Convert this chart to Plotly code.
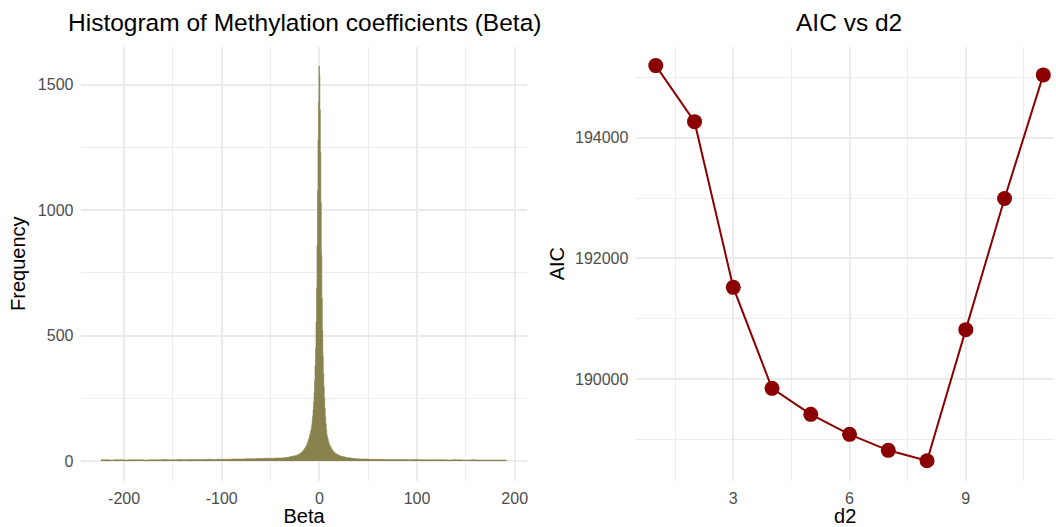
import numpy as np
import plotly.graph_objects as go

# ---------------- Data ----------------
# Histogram of Beta (counts)
# far tails: bins of width 5 (outermost bins shorter)
left_tail_edges = [-223.5, -220.5, -215.5, -210.5, -205.5, -200.5, -195.5, -190.5,
                   -185.5, -180.5, -175.5, -170.5, -165.5, -160.5, -155.5, -150.5,
                   -145.5, -140.5, -135.5, -130.5, -125.5, -120.5, -115.5, -110.5,
                   -105.5, -100.5, -95.5, -90.5, -85.5, -80.5, -75.5, -70.5,
                   -65.5, -60.5, -55.5, -50.5, -45.5, -40.5]
left_tail_counts = [5, 5, 4, 5, 5, 4, 5, 5, 5, 4, 5, 5, 5, 6, 5, 5, 6, 5, 6,
                    6, 6, 6, 7, 6, 7, 7, 7, 8, 8, 8, 9, 9, 10, 10, 11, 11, 12]
# shoulders: bins of width 1 centred on -40..-11 and 11..40
inner_left_centers = list(range(-40, -10))
inner_left_counts = [12, 12, 12, 13, 13, 14, 14, 15, 15, 16,
                     17, 18, 19, 19, 20, 21, 22, 23, 25, 27,
                     29, 32, 35, 39, 44, 50, 56, 64, 74, 86]
# peak: bins of width 0.5 from -10.5 to 10.5
fine_edges_start, fine_edges_end, fine_width = -10.5, 10.5, 0.5
fine_counts = [98, 105, 112, 120, 130, 143, 160, 180, 205, 235, 272,
               320, 380, 450, 555, 690, 860, 1080, 1280, 1430, 1574,
               1540, 1400, 1230, 1030, 820, 650, 520, 420, 350, 295,
               250, 210, 175, 148, 125, 106, 96, 88, 80, 73, 67]
inner_right_centers = list(range(11, 41))
inner_right_counts = [61, 53, 46, 40, 36, 32, 29, 27, 25, 23,
                      21, 20, 19, 18, 17, 16, 15, 14, 14, 13,
                      13, 12, 12, 11, 11, 10, 10, 9, 9, 9]
right_tail_edges = [40.5, 45.5, 50.5, 55.5, 60.5, 65.5, 70.5, 75.5, 80.5, 85.5,
                    90.5, 95.5, 100.5, 105.5, 110.5, 115.5, 120.5, 125.5, 130.5,
                    135.5, 140.5, 145.5, 150.5, 155.5, 160.5, 165.5, 170.5, 175.5,
                    180.5, 185.5, 190.5, 191.5]
right_tail_counts = [8, 8, 7, 7, 7, 6, 6, 6, 6, 6, 5, 6, 5, 5, 5, 5, 5, 5, 4, 5,
                     5, 4, 4, 5, 4, 4, 4, 4, 4, 4, 4]

hist_tickvals = [-200, -100, 0, 100, 200]
hist_ticktext = ["-200", "-100", "0", "100", "200"]
freq_tickvals = [0, 500, 1000, 1500]

# AIC vs d2
d2 = [1, 2, 3, 4, 5, 6, 7, 8, 9, 10, 11]
aic = [195195, 194266, 191519, 189845, 189414, 189082, 188817, 188644,
       190818, 192991, 195041]
d2_tickvals = [3, 6, 9]
aic_tickvals = [190000, 192000, 194000]

# ---------------- Build histogram outline (step polygon of the bins) ----------------
lt = np.array(left_tail_edges)
rt = np.array(right_tail_edges)
fine_left = np.arange(fine_edges_start, fine_edges_end - 1e-9, fine_width)
bin_left = np.concatenate([lt[:-1],
                           np.array(inner_left_centers) - 0.5,
                           fine_left,
                           np.array(inner_right_centers) - 0.5,
                           rt[:-1]])
bin_y = np.concatenate([left_tail_counts, inner_left_counts, fine_counts,
                        inner_right_counts, right_tail_counts]).astype(float)
bin_right_end = rt[-1]
step_x = np.concatenate([[bin_left[0]], bin_left, [bin_right_end, bin_right_end]])
step_y = np.concatenate([[0.0], bin_y, [bin_y[-1], 0.0]])

FONT = "Liberation Sans, Arial, Helvetica, sans-serif"
GRID = "#EBEBEB"
MINOR = "#EDEDED"
TICKC = "#4D4D4D"
OLIVE = "#88834E"

fig = go.Figure()
fig.add_trace(go.Scatter(x=step_x, y=step_y, mode="lines", line_shape="hv",
                         line=dict(color=OLIVE, width=0.6),
                         fill="tozeroy", fillcolor=OLIVE,
                         xaxis="x", yaxis="y", showlegend=False, hoverinfo="skip"))
fig.add_trace(go.Scatter(x=d2, y=aic, mode="lines+markers",
                         line=dict(color="#8B0000", width=2),
                         marker=dict(color="#8B0000", size=15),
                         xaxis="x2", yaxis="y2", showlegend=False))

W, H = 1056, 527
yb, yt = 480.8, 46.5
ydom = [1 - yb / H, 1 - yt / H]

hist_ymax = max(bin_y) * 1.05
hist_ymin = -max(bin_y) * 0.05

tickfont = dict(family=FONT, size=16, color=TICKC)
titlefont = dict(family=FONT, size=20, color="black")
common_axis = dict(showline=False, zeroline=False, ticks="",
                   tickfont=tickfont, gridcolor=GRID, gridwidth=1.6)
minor_style = dict(showgrid=True, gridcolor=MINOR, gridwidth=1.0)

fig.update_layout(
    width=W, height=H, margin=dict(l=0, r=0, t=0, b=0),
    paper_bgcolor="white", plot_bgcolor="white",
    font=dict(family=FONT, color="black"),
    xaxis=dict(domain=[81.6 / W, 527.6 / W], range=[-243.7, 212.2],
               tickvals=hist_tickvals, ticktext=hist_ticktext,
               minor=dict(tickvals=[-150, -50, 50, 150], **minor_style),
               ticklabelstandoff=6,
               title=dict(text="Beta", font=titlefont, standoff=0),
               anchor="y", **common_axis),
    yaxis=dict(domain=ydom, range=[hist_ymin, hist_ymax],
               tickvals=freq_tickvals,
               minor=dict(tickvals=[250, 750, 1250], **minor_style),
               ticklabelstandoff=7,
               title=dict(text="Frequency", font=titlefont, standoff=6),
               anchor="x", **common_axis),
    xaxis2=dict(domain=[637.6 / W, 1.0], range=[0.5, 11.276],
                tickvals=d2_tickvals,
                minor=dict(tickvals=[1.5, 4.5, 7.5, 10.5], **minor_style),
                ticklabelstandoff=6,
                title=dict(text="d2", font=titlefont, standoff=0),
                anchor="y2", **common_axis),
    yaxis2=dict(domain=ydom, range=[188312, 195512],
                tickvals=aic_tickvals, tickformat="d",
                minor=dict(tickvals=[189000, 191000, 193000, 195000], **minor_style),
                ticklabelstandoff=7,
                title=dict(text="AIC", font=titlefont, standoff=4),
                anchor="x2", **common_axis),
    annotations=[
        dict(text="Histogram of Methylation coefficients (Beta)", x=304.6 / W, y=1 - 22 / H,
             xref="paper", yref="paper", xanchor="center", yanchor="middle",
             showarrow=False, font=dict(family=FONT, size=24.5, color="black")),
        dict(text="AIC vs d2", x=851 / W, y=1 - 22 / H,
             xref="paper", yref="paper", xanchor="center", yanchor="middle",
             showarrow=False, font=dict(family=FONT, size=24.5, color="black")),
    ],
)

fig.write_html("out.html")
